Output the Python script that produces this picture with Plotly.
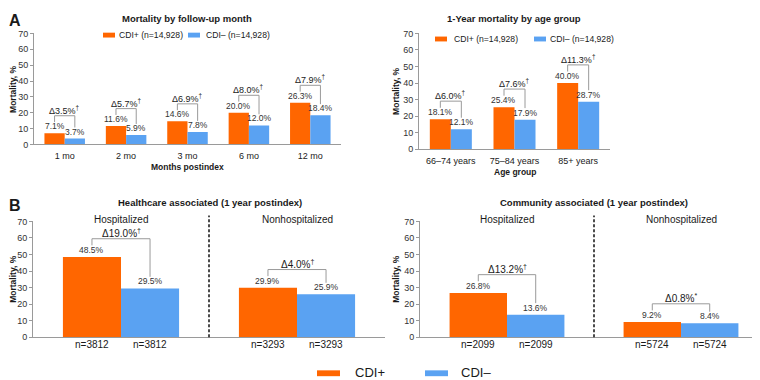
import plotly.graph_objects as go

# ---------------- data ----------------
month_labels = ["1 mo", "2 mo", "3 mo", "6 mo", "12 mo"]
month_cdi_pos = [7.1, 11.6, 14.6, 20.0, 26.3]
month_cdi_neg = [3.7, 5.9, 7.8, 12.0, 18.4]
month_delta = [3.5, 5.7, 6.9, 8.0, 7.9]
month_sig = ["†", "†", "†", "†", "†"]

age_labels = ["66–74 years", "75–84 years", "85+ years"]
age_cdi_pos = [18.1, 25.4, 40.0]
age_cdi_neg = [12.1, 17.9, 28.7]
age_delta = [6.0, 7.6, 11.3]
age_sig = ["†", "†", "†"]

setting_labels = ["Hospitalized", "Nonhospitalized"]
hc_cdi_pos = [48.5, 29.9]
hc_cdi_neg = [29.5, 25.9]
hc_delta = [19.0, 4.0]
hc_sig = ["†", "†"]
hc_n = [3812, 3293]

ca_cdi_pos = [26.8, 9.2]
ca_cdi_neg = [13.6, 8.4]
ca_delta = [13.2, 0.8]
ca_sig = ["†", "*"]
ca_n = [2099, 5724]

y_ticks = [0, 10, 20, 30, 40, 50, 60, 70]

# ---------------- style ----------------
W, H = 760, 380
ORANGE = "#FF6600"
BLUE = "#5AA2F2"
FONT = "Liberation Sans, Arial, sans-serif"
TXT = "#1a1a1a"
AXC = "#9a9a9a"
HALF = 0.33


def px(x):
    return x / W


def py(y):
    return 1 - y / H


fig = go.Figure()
shapes = []
annots = []

panels = [
    dict(ax="", labels=month_labels, pos=month_cdi_pos, neg=month_cdi_neg, delta=month_delta, sig=month_sig,
         xd=[px(26), px(333)], yd=[py(135), py(21)], dfont=9, n=None),
    dict(ax="2", labels=age_labels, pos=age_cdi_pos, neg=age_cdi_neg, delta=age_delta, sig=age_sig,
         xd=[px(411), px(602)], yd=[py(140), py(21)], dfont=9, n=None),
    dict(ax="3", labels=setting_labels, pos=hc_cdi_pos, neg=hc_cdi_neg, delta=hc_delta, sig=hc_sig,
         xd=[px(25), px(377)], yd=[py(333), py(214)], dfont=10, n=hc_n),
    dict(ax="4", labels=setting_labels, pos=ca_cdi_pos, neg=ca_cdi_neg, delta=ca_delta, sig=ca_sig,
         xd=[px(412), px(760)], yd=[py(333), py(214)], dfont=10, n=ca_n),
]

layout_axes = {}
for p in panels:
    a = p["ax"]
    xr, yr = "x" + a, "y" + a
    ncat = len(p["labels"])
    idx = list(range(ncat))
    for vals, col, off in [(p["pos"], ORANGE, -HALF), (p["neg"], BLUE, 0)]:
        fig.add_trace(go.Bar(
            x=idx, y=vals, xaxis=xr, yaxis=yr, width=HALF, offset=off,
            marker=dict(color=col, line=dict(width=0)), textposition="none",
            showlegend=False, hoverinfo="skip"))
        for i, v in zip(idx, vals):
            annots.append(dict(x=i + off + HALF / 2, y=v, xref=xr, yref=yr, yanchor="bottom",
                               yshift=1, borderpad=0, showarrow=False, text=f"{v:.1f}%",
                               font=dict(size=8.5, color="#333333", family=FONT)))
    # brackets and deltas
    for i in idx:
        a_v, b_v = p["pos"][i], p["neg"][i]
        top = max(a_v, b_v) + 11
        x0, x1 = i - HALF / 2, i + HALF / 2
        shapes.append(dict(type="path", xref=xr, yref=yr,
                           path=f"M {x0},{a_v + 7} L {x0},{top} L {x1},{top} L {x1},{b_v + 7}",
                           line=dict(color=AXC, width=1)))
        annots.append(dict(x=i, y=top, xref=xr, yref=yr, yanchor="bottom", showarrow=False,
                           borderpad=0, yshift=-1,
                           text=f"Δ{p['delta'][i]:.1f}%<sup>{p['sig'][i]}</sup>",
                           font=dict(size=p["dfont"], color=TXT, family=FONT)))
    xa = dict(domain=p["xd"], range=[-0.5, ncat - 0.5], anchor=yr, showline=True,
              linecolor=AXC, linewidth=1, showgrid=False, zeroline=False, fixedrange=True)
    if p["n"] is None:
        xa.update(tickmode="array", tickvals=idx, ticktext=p["labels"], ticks="outside",
                  ticklen=3, tickcolor="rgba(0,0,0,0)",
                  tickfont=dict(size=9, color=TXT, family=FONT))
    else:
        xa.update(showticklabels=False, ticks="")
        for i in idx:
            for off in (-HALF / 2, HALF / 2):
                annots.append(dict(x=i + off, y=0, xref=xr, yref=yr, yanchor="top", yshift=-1,
                                   borderpad=0, showarrow=False, text=f"n={p['n'][i]}",
                                   font=dict(size=10, color=TXT, family=FONT)))
            annots.append(dict(x=i, y=70, xref=xr, yref=yr, yanchor="middle", yshift=2,
                               borderpad=0, showarrow=False,
                               text=p["labels"][i], font=dict(size=10, color=TXT, family=FONT)))
        shapes.append(dict(type="line", xref=xr, yref=yr + " domain", x0=0.5, x1=0.5, y0=0, y1=1.05,
                           line=dict(color="#111111", width=1.5, dash="3px,2px")))
    ya = dict(domain=p["yd"], range=[0, 70], anchor=xr, showline=True, linecolor=AXC, linewidth=1,
              ticks="outside", ticklen=3, tickcolor=AXC, tickmode="array", tickvals=y_ticks,
              tickfont=dict(size=9, color="#333333", family=FONT), showgrid=False, zeroline=False,
              fixedrange=True)
    layout_axes["xaxis" + a] = xa
    layout_axes["yaxis" + a] = ya


def ptext(x, y, text, size, bold=False, xanchor="center", angle=0):
    annots.append(dict(x=px(x), y=py(y), xref="paper", yref="paper", xanchor=xanchor,
                       yanchor="middle", showarrow=False, textangle=angle, borderpad=0,
                       text=f"<b>{text}</b>" if bold else text,
                       font=dict(size=size, color=TXT, family=FONT)))


# titles and panel letters
ptext(0, 8, "A", 16, bold=True, xanchor="left")
ptext(0, 198, "B", 16, bold=True, xanchor="left")
ptext(179, 6, "Mortality by follow-up month", 9.5, bold=True)
ptext(506, 6, "1-Year mortality by age group", 9.5, bold=True)
ptext(202, 195, "Healthcare associated (1 year postindex)", 9.5, bold=True)
ptext(586, 195, "Community associated (1 year postindex)", 9.5, bold=True)
# axis titles
ptext(179, 158, "Months postindex", 8.5, bold=True)
ptext(507, 163, "Age group", 8.5, bold=True)
for x, y in [(5, 78), (388, 80), (5, 273), (388, 273)]:
    ptext(x, y, "Mortality, %", 8.5, bold=True, angle=-90)


def swatch(x0, x1, yc, h, col):
    shapes.append(dict(type="rect", xref="paper", yref="paper", x0=px(x0), x1=px(x1),
                       y0=py(yc + h / 2), y1=py(yc - h / 2), fillcolor=col, line=dict(width=0)))


# top legends
swatch(95, 107, 22.7, 5, ORANGE)
ptext(110, 22.7, "CDI+ (n=14,928)", 8.6, xanchor="left")
swatch(180, 192, 22.7, 5, BLUE)
ptext(197, 22.7, "CDI– (n=14,928)", 8.6, xanchor="left")
swatch(427, 439, 26.7, 5, ORANGE)
ptext(445, 26.7, "CDI+ (n=14,928)", 8.6, xanchor="left")
swatch(526, 538, 26.7, 5, BLUE)
ptext(541, 26.7, "CDI– (n=14,928)", 8.6, xanchor="left")
# bottom legend
swatch(309, 332, 370, 6, ORANGE)
ptext(346, 369, "CDI+", 13, xanchor="left")
swatch(417, 440, 370, 6, BLUE)
ptext(452, 369, "CDI–", 13, xanchor="left")

fig.update_layout(
    width=W, height=H, margin=dict(l=0, r=0, t=0, b=0),
    paper_bgcolor="white", plot_bgcolor="white", barmode="overlay",
    font=dict(family=FONT, color=TXT), showlegend=False,
    shapes=shapes, annotations=annots, **layout_axes)

fig.write_html("out.html")
